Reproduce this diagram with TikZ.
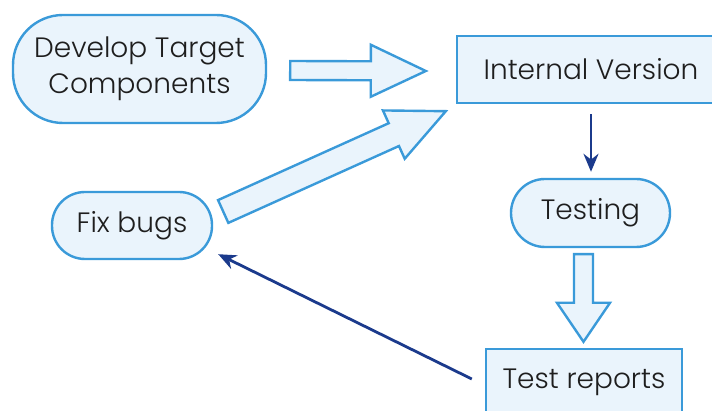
\documentclass[tikz,border=0pt]{standalone}
\usepackage{fontspec}
\setmainfont{Poppins Light}
\usetikzlibrary{calc,arrows.meta}

\definecolor{edgeblue}{HTML}{3A9AD9}
\definecolor{paleblue}{HTML}{EAF4FC}
\definecolor{navy}{HTML}{1B3A8C}
\definecolor{ink}{HTML}{1E1E1E}

% Outlined block arrow from #1 to #2:
% #3 = shaft half width, #4 = head half width, #5 = head length
\newcommand\fatarrow[5]{%
  \draw[hollowarrow] let \p1=(#1), \p2=(#2),
      \n1={atan2(\y2-\y1,\x2-\x1)} in
    ($(\p1)+({\n1+90}:#3)$)
    -- ($(\p2)+({\n1+180}:#5)+({\n1+90}:#3)$)
    -- ($(\p2)+({\n1+180}:#5)+({\n1+90}:#4)$)
    -- (\p2)
    -- ($(\p2)+({\n1+180}:#5)+({\n1-90}:#4)$)
    -- ($(\p2)+({\n1+180}:#5)+({\n1-90}:#3)$)
    -- ($(\p1)+({\n1-90}:#3)$)
    -- cycle;}

\begin{document}
\begin{tikzpicture}[x=1pt,y=1pt,
  every node/.style={text=ink,font=\fontsize{28}{36}\selectfont},
  box/.style={draw=edgeblue,fill=paleblue,line width=2.4pt,inner sep=0pt,align=center},
  stadium/.style={box,rounded corners=#1},
  hollowarrow/.style={draw=edgeblue,fill=paleblue,line width=2.4pt,line join=miter},
  thinarrow/.style={draw=navy,line width=2.8pt,-{Stealth[length=18pt,width=15pt]}}]

\useasboundingbox (0,0) rectangle (712,411);
\clip (0,0) rectangle (712,411);

\node[stadium=50,minimum width=253pt,minimum height=108pt] (dev) at (139.5,342)
  {Develop Target\\Components};
\node[box,minimum width=268pt,minimum height=67pt] (int) at (591,341.5)
  {Internal Version};
\node[stadium=34,minimum width=159pt,minimum height=68pt] (test) at (590.5,198)
  {Testing};
\node[box,minimum width=196pt,minimum height=67pt] (rep) at (584,28.5)
  {Test reports};
\node[stadium=33,minimum width=160pt,minimum height=67pt] (fix) at (132,185.5)
  {Fix bugs};

% block arrows
\coordinate (a1) at ($(dev.east)+(23,-1.5)$);
\coordinate (a2) at ($(int.west)+(-30,-1.5)$);
\fatarrow{a1}{a2}{9.5pt}{26pt}{55pt}

\coordinate (b1) at ($(fix.east)+(10,14)$);
\coordinate (b2) at ($(int.south west)+(-10,-7)$);
\fatarrow{b1}{b2}{12.5pt}{26.5pt}{57pt}

\coordinate (c1) at ($(test.south)+(-7,-6)$);
\coordinate (c2) at ($(rep.north)+(-0.5,6)$);
\fatarrow{c1}{c2}{9.5pt}{26.5pt}{39pt}

% plain arrows
\draw[thinarrow] ($(int.south)+(0,-10)$) -- ($(test.north)+(0.5,6)$);
\draw[thinarrow] ($(rep.west)+(-13,3.5)$) -- ($(fix.south east)+(5,6)$);
\end{tikzpicture}
\end{document}
